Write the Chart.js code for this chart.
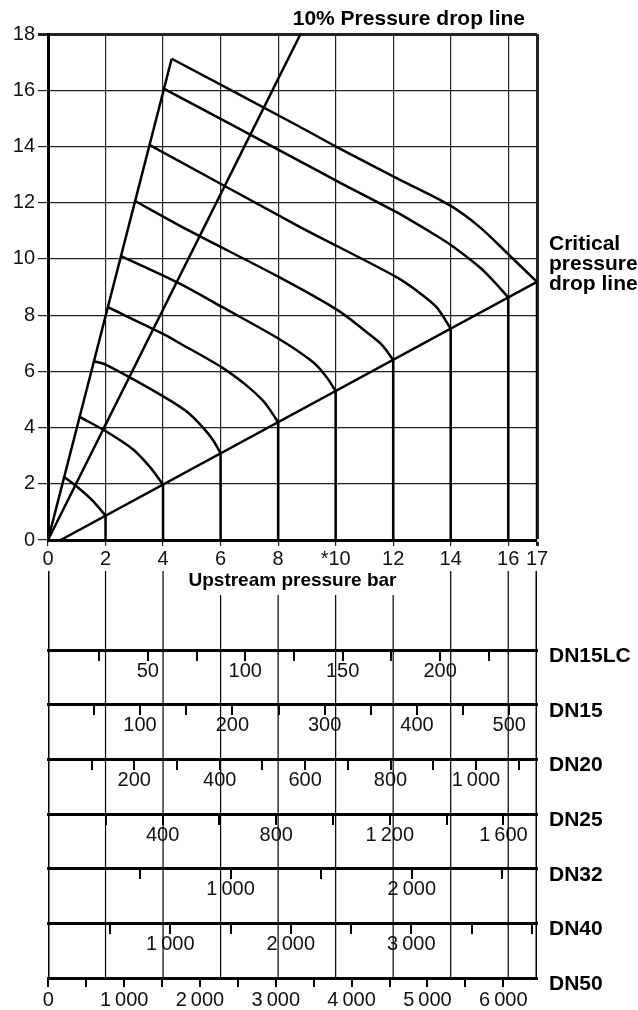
<!DOCTYPE html>
<html>
<head>
<meta charset="utf-8">
<script src="https://cdn.jsdelivr.net/npm/chart.js@4"></script>
<style>
  html, body { margin: 0; padding: 0; background: #fff; }
  #wrap { position: relative; width: 638px; height: 1010px; background: #fff; }
  #wrap canvas { position: absolute; left: 0; }
  #top { top: 0; }
  #bottom { top: 560px; }
</style>
</head>
<body>
<div id="wrap">
  <canvas id="bottom" width="638" height="450"></canvas>
  <canvas id="top" width="638" height="600"></canvas>
</div>
<script>
const FONT = "'Liberation Sans', Arial, Helvetica, sans-serif";
const INK = "#000";
const GRID = "#222";
const TEXT = "#111";

// ---- top nomogram: upstream pressure (x, bar) vs pressure drop (y, bar) ----
const xTicks = [0, 2, 4, 6, 8, 10, 12, 14, 16, 17];
const xTickLabels = ["0", "2", "4", "6", "8", "*10", "12", "14", "16", "17"];
const yTicks = [0, 2, 4, 6, 8, 10, 12, 14, 16, 18];

const steepLine = [[0, 0], [4.30, 17.12]];
const tenPercentLine = [[0, 0], [8.78, 18]];
const criticalLine = [[0.44, 0], [17, 9.18]];

// one curve per upstream pressure, from steep line to critical line
const curvePressures = [2, 4, 6, 8, 10, 12, 14, 16, 17];
const curveP2 = [[0.56, 2.24], [1.05, 1.86], [1.55, 1.40], [2, 0.865]];
const curveP4 = [[1.10, 4.38], [2.04, 3.85], [2.96, 3.22], [3.54, 2.60], [4, 1.973]];
const curveP6 = [[1.60, 6.36], [2.04, 6.22], [3.99, 5.12], [4.82, 4.57], [5.39, 4.00], [5.74, 3.55], [6, 3.082]];
const curveP8 = [[2.08, 8.28], [4.00, 7.33], [4.58, 7.00], [6.03, 6.15], [6.90, 5.50], [7.48, 4.95], [7.77, 4.55], [8, 4.19]];
const curveP10 = [[2.54, 10.10], [4.58, 9.12], [6.03, 8.30], [8.02, 7.16], [9.21, 6.33], [9.68, 5.80], [10, 5.30]];
const curveP12 = [[3.04, 12.05], [4.87, 11.02], [8.02, 9.36], [10.08, 8.17], [11.07, 7.40], [11.60, 6.95], [12, 6.41]];
const curveP14 = [[3.54, 14.05], [8.75, 11.14], [10.06, 10.45], [12.10, 9.36], [12.80, 8.88], [13.50, 8.29], [14, 7.52]];
const curveP16 = [[4.04, 16.05], [8.75, 13.48], [10.06, 12.76], [12.10, 11.67], [13.38, 10.90], [14.04, 10.47], [15.00, 9.71], [15.50, 9.20], [16, 8.63]];
const curveP17 = [[4.30, 17.12], [8.75, 14.70], [10.06, 13.97], [12.10, 12.88], [13.96, 11.91], [15.00, 11.14], [15.98, 10.19], [17, 9.18]];
const curves = [curveP2, curveP4, curveP6, curveP8, curveP10, curveP12, curveP14, curveP16, curveP17];

// ---- bottom flow scales, one row per valve size ----
const rowNames = ["DN15LC", "DN15", "DN20", "DN25", "DN32", "DN40", "DN50"];
const rowLevels = [6, 5, 4, 3, 2, 1, 0];

const dn15lcTicks = [25, 50, 75, 100, 125, 150, 175, 200, 225];
const dn15lcMajor = [50, 100, 150, 200];
const dn15lcLabels = ["50", "100", "150", "200"];
const dn15lcRange = [-1.2, 249.7];

const dn15Ticks = [50, 100, 150, 200, 250, 300, 350, 400, 450, 500];
const dn15Major = [100, 200, 300, 400, 500];
const dn15Labels = ["100", "200", "300", "400", "500"];
const dn15Range = [0.3, 530];

const dn20Ticks = [100, 200, 300, 400, 500, 600, 700, 800, 900, 1000, 1100];
const dn20Major = [200, 400, 600, 800, 1000];
const dn20Labels = ["200", "400", "600", "800", "1\u2009000"];
const dn20Range = [-2.1, 1143];

const dn25Ticks = [200, 400, 600, 800, 1000, 1200, 1400, 1600];
const dn25Major = [400, 800, 1200, 1600];
const dn25Labels = ["400", "800", "1\u2009200", "1\u2009600"];
const dn25Range = [-3.5, 1718];

const dn32Ticks = [500, 1000, 1500, 2000, 2500];
const dn32Major = [1000, 2000];
const dn32Labels = ["1\u2009000", "2\u2009000"];
const dn32Range = [-7.7, 2691];

const dn40Ticks = [500, 1000, 1500, 2000, 2500, 3000, 3500, 4000];
const dn40Major = [1000, 2000, 3000];
const dn40Labels = ["1\u2009000", "2\u2009000", "3\u2009000"];
const dn40Range = [-15, 4043];

const dn50Ticks = [0, 500, 1000, 1500, 2000, 2500, 3000, 3500, 4000, 4500, 5000, 5500, 6000];
const dn50Major = [0, 1000, 2000, 3000, 4000, 5000, 6000];
const dn50Labels = ["0", "1\u2009000", "2\u2009000", "3\u2009000", "4\u2009000", "5\u2009000", "6\u2009000"];
const dn50Range = [-4, 6445];

// pressure lines carried down through the scales (top in row units)
const scaleLines = [0, 2, 4, 6, 8, 10, 12, 14, 16, 17];
const scaleLineTops = [7.45, 7.45, 7.45, 7.01, 7.01, 7.01, 7.01, 7.45, 7.45, 7.45];

// ---------------------------------------------------------------------------

const pts = (arr) => arr.map(([x, y]) => ({ x, y }));

function lineDs(data, width, extra) {
  return Object.assign({
    data,
    showLine: true,
    borderColor: INK,
    borderWidth: width,
    pointRadius: 0,
    fill: false,
    tension: 0
  }, extra || {});
}

// vertical drops from each curve end to the axis
const drops = [];
curves.forEach((c, i) => {
  const end = c[c.length - 1];
  drops.push({ x: end[0], y: end[1] }, { x: curvePressures[i], y: 0 }, { x: curvePressures[i], y: null });
});

const LABEL_FONT = `bold 21px ${FONT}`;

const topLabels = {
  id: "topLabels",
  afterDraw(chart) {
    const { ctx, chartArea } = chart;
    ctx.save();
    ctx.fillStyle = INK;
    ctx.font = LABEL_FONT;
    ctx.textBaseline = "alphabetic";
    ctx.textAlign = "right";
    ctx.fillText("10% Pressure drop line", chartArea.right - 12, chartArea.top - 9);
    ctx.textAlign = "left";
    const y0 = chart.scales.y.getPixelForValue(9.18);
    ["Critical", "pressure", "drop line"].forEach((t, i) => {
      ctx.fillText(t, chartArea.right + 12, y0 - 32 + i * 20);
    });
    ctx.restore();
  }
};

const tickFont = { family: FONT, size: 20 };

new Chart(document.getElementById("top"), {
  type: "scatter",
  data: {
    datasets: [
      lineDs(pts(steepLine), 2.5),
      lineDs(pts(tenPercentLine), 2.5),
      lineDs(pts(criticalLine), 2.5),
      ...curves.map(c => lineDs(pts(c), 2.5, { tension: 0.3 })),
      lineDs(drops, 2.5, { spanGaps: false })
    ]
  },
  options: {
    responsive: false,
    animation: false,
    layout: { padding: { top: 34, right: 101, left: 0, bottom: 0 } },
    plugins: { legend: { display: false }, tooltip: { enabled: false } },
    scales: {
      x: {
        type: "linear",
        min: 0,
        max: 17,
        afterBuildTicks: (s) => { s.ticks = xTicks.map(v => ({ value: v })); },
        afterFit: (s) => { s.height = 60; },
        grid: {
          color: GRID,
          lineWidth: (ctx) => (ctx.tick && ctx.tick.value === 17 ? 3 : 1.2),
          tickLength: 6
        },
        border: { width: 3, color: INK },
        ticks: {
          autoSkip: false,
          maxRotation: 0,
          padding: 1,
          color: TEXT,
          font: tickFont,
          callback: (v, i) => xTickLabels[i]
        },
        title: {
          display: true,
          text: "Upstream pressure bar",
          color: INK,
          font: { family: FONT, size: 19, weight: "bold" },
          padding: { top: 0, bottom: 8 }
        }
      },
      y: {
        type: "linear",
        min: 0,
        max: 18,
        afterBuildTicks: (s) => { s.ticks = yTicks.map(v => ({ value: v })); },
        afterFit: (s) => { s.width = 48; },
        grid: {
          color: GRID,
          lineWidth: (ctx) => (ctx.tick && ctx.tick.value === 18 ? 3 : 1.2),
          tickLength: 10
        },
        border: { width: 3, color: INK },
        ticks: { padding: 3, color: TEXT, font: tickFont }
      }
    }
  },
  plugins: [topLabels]
});

// ---- bottom chart ----

function rowAxis(level, range, ticks, major, labels, bottom) {
  return {
    type: "linear",
    axis: "x",
    position: bottom ? "bottom" : { y: level },
    min: range[0],
    max: range[1],
    afterBuildTicks: (s) => { s.ticks = ticks.map(v => ({ value: v })); },
    afterFit: bottom ? (s) => { s.height = 32; } : undefined,
    grid: { drawOnChartArea: false, drawTicks: true, tickLength: 9, lineWidth: 2, color: INK },
    border: { display: true, width: 3, color: INK },
    ticks: {
      autoSkip: false,
      maxRotation: 0,
      padding: bottom ? 1 : 0,
      color: TEXT,
      font: tickFont,
      callback: (v) => {
        const k = major.indexOf(v);
        return k < 0 ? "" : labels[k];
      }
    }
  };
}

const lineSets = scaleLines.map((p, i) => ({
  data: [{ x: p, y: 0 }, { x: p, y: scaleLineTops[i] }],
  xAxisID: "p",
  yAxisID: "y",
  showLine: true,
  borderColor: INK,
  borderWidth: (p === 0 || p === 17) ? 3 : 1.2,
  pointRadius: 0,
  fill: false
}));

new Chart(document.getElementById("bottom"), {
  type: "scatter",
  data: { datasets: lineSets },
  options: {
    responsive: false,
    animation: false,
    layout: { padding: { top: 11, left: 48, right: 0, bottom: 0 } },
    plugins: { legend: { display: false }, tooltip: { enabled: false } },
    scales: {
      y: { type: "linear", axis: "y", min: 0, max: 7.45, display: false },
      yLabels: {
        type: "linear",
        axis: "y",
        position: "right",
        min: 0,
        max: 7.45,
        afterBuildTicks: (s) => { s.ticks = rowLevels.map(v => ({ value: v })); },
        afterFit: (s) => { s.width = 101; s.paddingTop = 0; s.paddingBottom = 0; },
        grid: { display: false, drawTicks: false },
        border: { display: false },
        ticks: {
          padding: 12,
          labelOffset: 6,
          color: INK,
          font: { family: FONT, size: 21, weight: "bold" },
          callback: (v, i) => rowNames[i]
        }
      },
      p: { type: "linear", axis: "x", min: 0, max: 17, display: false },
      dn15lc: rowAxis(rowLevels[0], dn15lcRange, dn15lcTicks, dn15lcMajor, dn15lcLabels),
      dn15: rowAxis(rowLevels[1], dn15Range, dn15Ticks, dn15Major, dn15Labels),
      dn20: rowAxis(rowLevels[2], dn20Range, dn20Ticks, dn20Major, dn20Labels),
      dn25: rowAxis(rowLevels[3], dn25Range, dn25Ticks, dn25Major, dn25Labels),
      dn32: rowAxis(rowLevels[4], dn32Range, dn32Ticks, dn32Major, dn32Labels),
      dn40: rowAxis(rowLevels[5], dn40Range, dn40Ticks, dn40Major, dn40Labels),
      dn50: rowAxis(rowLevels[6], dn50Range, dn50Ticks, dn50Major, dn50Labels, true)
    }
  }
});
</script>
</body>
</html>
